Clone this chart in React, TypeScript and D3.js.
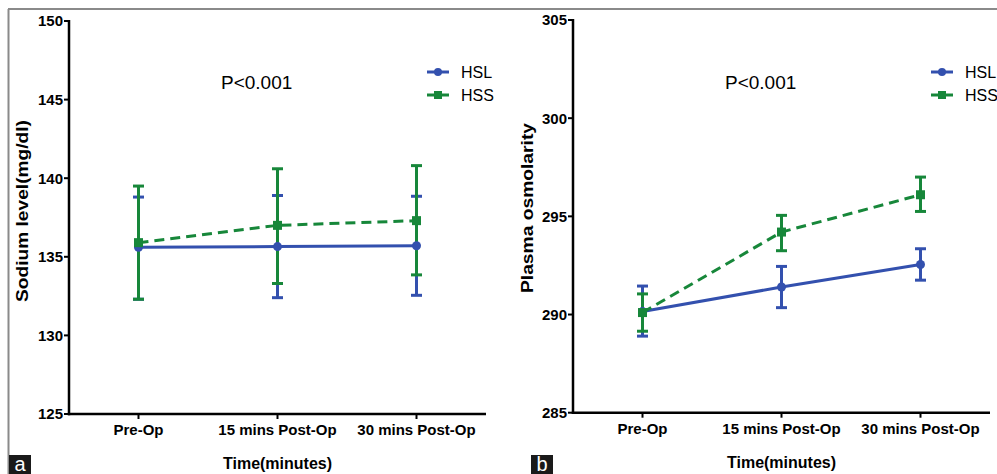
import React from 'react';
import * as d3 from 'd3';

const categories = ['Pre-Op', '15 mins Post-Op', '30 mins Post-Op'];

// panel a: sodium level
const sodiumHSL = [135.6, 135.65, 135.7];
const sodiumHSLLow = [132.3, 132.4, 132.55];
const sodiumHSLHigh = [138.8, 138.9, 138.85];
const sodiumHSS = [135.9, 137.0, 137.3];
const sodiumHSSLow = [132.3, 133.3, 133.85];
const sodiumHSSHigh = [139.5, 140.6, 140.8];
const sodiumTicks = [125, 130, 135, 140, 145, 150];

// panel b: plasma osmolarity
const osmoHSL = [290.15, 291.4, 292.55];
const osmoHSLLow = [288.9, 290.35, 291.75];
const osmoHSLHigh = [291.45, 292.45, 293.35];
const osmoHSS = [290.1, 294.2, 296.1];
const osmoHSSLow = [289.15, 293.25, 295.25];
const osmoHSSHigh = [291.05, 295.05, 297.0];
const osmoTicks = [285, 290, 295, 300, 305];

const BLUE = '#3350ae';
const GREEN = '#17873a';
const FONT = '"Liberation Sans", Arial, sans-serif';

type Series = { mean: number[]; low: number[]; high: number[] };

type PanelProps = {
  left: number;
  right: number;
  top: number;
  bottom: number;
  domain: [number, number];
  ticks: number[];
  hsl: Series;
  hss: Series;
  yLabel: string;
  yLabelX: number;
  yLabelY: number;
  yLabelLen: number;
  letter: string;
  letterX: number;
};

const Panel = (p: PanelProps) => {
  const x = d3.scaleBand<string>().domain(categories).range([p.left, p.right]);
  const y = d3.scaleLinear().domain(p.domain).range([p.bottom, p.top]);
  const cx = (c: string) => (x(c) ?? 0) + x.bandwidth() / 2;

  const line = d3
    .line<number>()
    .x((_, i) => cx(categories[i]))
    .y((v) => y(v));

  const errorBars = (s: Series, color: string) =>
    categories.map((c, i) => (
      <g key={c} stroke={color} strokeWidth={3}>
        <line x1={cx(c)} x2={cx(c)} y1={y(s.low[i])} y2={y(s.high[i])} />
        <line x1={cx(c) - 5.5} x2={cx(c) + 5.5} y1={y(s.low[i])} y2={y(s.low[i])} />
        <line x1={cx(c) - 5.5} x2={cx(c) + 5.5} y1={y(s.high[i])} y2={y(s.high[i])} />
      </g>
    ));

  const legendX = p.right - 59;
  const mid = (p.left + p.right) / 2;

  return (
    <g fontFamily={FONT}>
      {errorBars(p.hsl, BLUE)}
      {errorBars(p.hss, GREEN)}
      <path d={line(p.hsl.mean) ?? ''} fill="none" stroke={BLUE} strokeWidth={3} />
      <path
        d={line(p.hss.mean) ?? ''}
        fill="none"
        stroke={GREEN}
        strokeWidth={3}
        strokeDasharray="10,6"
      />
      {categories.map((c, i) => (
        <circle key={c} cx={cx(c)} cy={y(p.hsl.mean[i])} r={4.5} fill={BLUE} />
      ))}
      {categories.map((c, i) => (
        <rect key={c} x={cx(c) - 4.5} y={y(p.hss.mean[i]) - 4.5} width={9} height={9} fill={GREEN} />
      ))}

      {/* axes */}
      <line x1={p.left} x2={p.left} y1={p.top - 1} y2={p.bottom + 1.2} stroke="#000" strokeWidth={2.5} />
      <line x1={p.left - 1.2} x2={p.right} y1={p.bottom} y2={p.bottom} stroke="#000" strokeWidth={2.5} />
      {p.ticks.map((t) => (
        <g key={t}>
          <line x1={p.left - 5} x2={p.left} y1={y(t)} y2={y(t)} stroke="#000" strokeWidth={2} />
          <text
            x={p.left - 6}
            y={y(t)}
            dy="0.36em"
            textAnchor="end"
            fontSize={15}
            fontWeight="bold"
          >
            {t}
          </text>
        </g>
      ))}
      {categories.map((c) => (
        <g key={c}>
          <line x1={cx(c)} x2={cx(c)} y1={p.bottom} y2={p.bottom + 5} stroke="#000" strokeWidth={2} />
          <text x={cx(c)} y={p.bottom + 21} textAnchor="middle" fontSize={15} fontWeight="bold">
            {c}
          </text>
        </g>
      ))}
      <text x={mid} y={p.bottom + 55} textAnchor="middle" fontSize={16} fontWeight="bold">
        Time(minutes)
      </text>
      <text
        transform={`translate(${p.yLabelX},${p.yLabelY}) rotate(-90)`}
        textAnchor="middle"
        dy="0.35em"
        fontSize={17}
        fontWeight="bold"
        textLength={p.yLabelLen}
        lengthAdjust="spacingAndGlyphs"
      >
        {p.yLabel}
      </text>

      <text x={p.left + 152} y={82} dy="0.35em" fontSize={19}>
        P&lt;0.001
      </text>

      {/* legend */}
      <line x1={legendX} x2={legendX + 22} y1={72} y2={72} stroke={BLUE} strokeWidth={3} />
      <circle cx={legendX + 11} cy={72} r={4} fill={BLUE} />
      <text x={legendX + 34} y={72} dy="0.36em" fontSize={16}>HSL</text>
      <line x1={legendX} x2={legendX + 22} y1={95} y2={95} stroke={GREEN} strokeWidth={3} />
      <rect x={legendX + 7} y={91} width={8} height={8} fill={GREEN} />
      <text x={legendX + 34} y={95} dy="0.36em" fontSize={16}>HSS</text>

      {/* panel letter */}
      <rect x={p.letterX} y={455} width={22} height={19} fill="#1a1a1a" />
      <text x={p.letterX + 11} y={471} textAnchor="middle" fill="#fff" fontSize={20}>
        {p.letter}
      </text>
    </g>
  );
};

export default function App() {
  return (
    <svg
      width={997}
      height={474}
      style={{ position: 'absolute', left: 0, top: 0, background: '#fff' }}
    >
      <rect width={997} height={474} fill="#fff" />
      <line x1={8} x2={997} y1={9} y2={9} stroke="#8a8a8a" strokeWidth={2} />
      <line x1={8.5} x2={8.5} y1={9} y2={474} stroke="#8a8a8a" strokeWidth={2} />
      <Panel
        left={69}
        right={486}
        top={21}
        bottom={414}
        domain={[125, 150]}
        ticks={sodiumTicks}
        hsl={{ mean: sodiumHSL, low: sodiumHSLLow, high: sodiumHSLHigh }}
        hss={{ mean: sodiumHSS, low: sodiumHSSLow, high: sodiumHSSHigh }}
        yLabel="Sodium level(mg/dl)"
        yLabelX={22}
        yLabelY={211}
        yLabelLen={182}
        letter="a"
        letterX={9}
      />
      <Panel
        left={573}
        right={990}
        top={20}
        bottom={412.7}
        domain={[285, 305]}
        ticks={osmoTicks}
        hsl={{ mean: osmoHSL, low: osmoHSLLow, high: osmoHSLHigh }}
        hss={{ mean: osmoHSS, low: osmoHSSLow, high: osmoHSSHigh }}
        yLabel="Plasma osmolarity"
        yLabelX={527}
        yLabelY={208}
        yLabelLen={170}
        letter="b"
        letterX={531}
      />
    </svg>
  );
}
